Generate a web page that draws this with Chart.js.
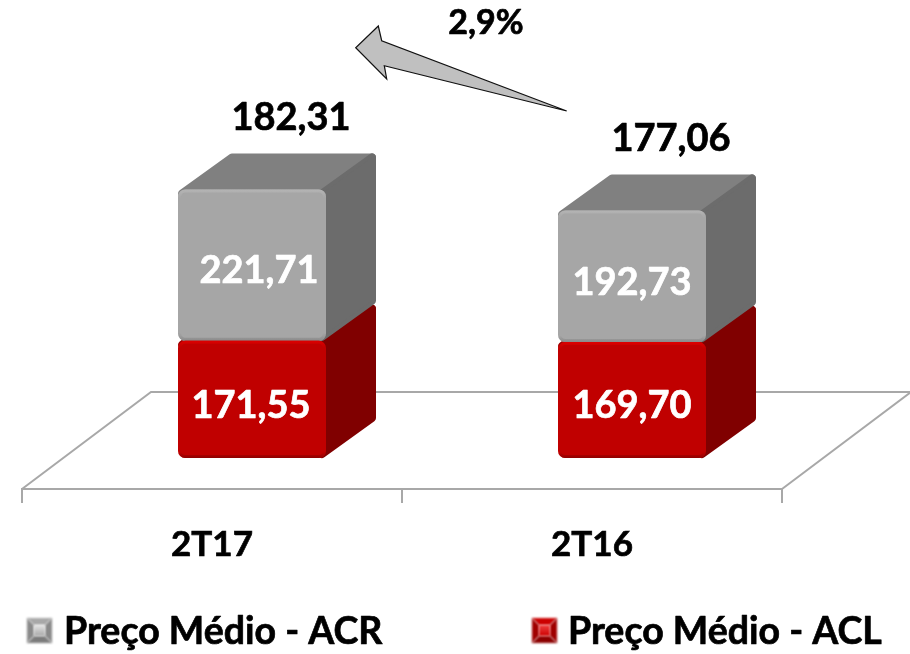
<!DOCTYPE html>
<html>
<head>
<meta charset="utf-8">
<style>html,body{margin:0;padding:0;background:#fff}#w{position:relative;width:910px;height:654px}</style>
<script src="https://cdn.jsdelivr.net/npm/chart.js@4"></script>
</head>
<body>
<div id="w"><canvas id="c" width="910" height="654"></canvas></div>
<script>
const categories = ['2T17', '2T16'];
const precoACL = [171.55, 169.70];
const precoACR = [221.71, 192.73];
const totals = [182.31, 177.06];
const variation = '2,9%';
const labelACR = 'Preço Médio - ACR';
const labelACL = 'Preço Médio - ACL';

const FONT = '"Lato"';
const FS = 38;
const fmt = v => v.toFixed(2).replace('.', ',');
const depth = {x: 50, y: -36};       // oblique depth of each block
const shift = 40;                    // blocks stand in the middle of the floor's depth

function facePoly(ctx, pts, fill) {
  ctx.beginPath();
  pts.forEach((p, i) => i ? ctx.lineTo(p[0], p[1]) : ctx.moveTo(p[0], p[1]));
  ctx.closePath();
  ctx.fillStyle = fill;
  ctx.strokeStyle = fill;
  ctx.lineJoin = 'round';
  ctx.lineWidth = 8;
  ctx.stroke();
  ctx.fill();
}

function heavyText(ctx, text, x, y) {
  ctx.lineJoin = 'round';
  ctx.lineWidth = 0.7;
  ctx.strokeStyle = ctx.fillStyle;
  ctx.strokeText(text, x, y);
  ctx.fillText(text, x, y);
}

const palette = [
  {top: '#9c0000', side: '#800000', hi: '#dc0000', lo: '#8e0000'},
  {top: '#808080', side: '#6c6c6c', hi: '#b4b4b4', lo: '#8a8a8a'}
];

const blocks = {
  id: 'blocks',
  beforeDatasetsDraw(chart) {
    const {ctx, chartArea: a} = chart;
    // floor
    const backY = 392;
    const dx = 129;
    ctx.save();
    ctx.strokeStyle = '#a8a8a8';
    ctx.lineWidth = 2;
    ctx.beginPath();
    ctx.moveTo(a.left, a.bottom);
    ctx.lineTo(a.left + dx, backY);
    ctx.lineTo(a.right + dx, backY);
    ctx.lineTo(a.right, a.bottom);
    ctx.stroke();
    ctx.restore();
    ctx.save();
    ctx.translate(shift, 0);
    // receding faces, lower block first
    [0, 1].forEach(di => {
      const c = palette[di];
      chart.getDatasetMeta(di).data.forEach(b => {
        b.enableBorderRadius = true;
        const r = b.x + b.width / 2 - 4, l = b.x - b.width / 2 + 4;
        const t = b.y + 4, bt = b.base - 4;
        ctx.save();
        ctx.filter = 'blur(0.6px)';
        facePoly(ctx, [[l, t], [l + depth.x, t + depth.y], [r + depth.x, t + depth.y], [r, t]], c.top);
        facePoly(ctx, [[r, t], [r + depth.x, t + depth.y], [r + depth.x, bt + depth.y], [r, bt]], c.side);
        ctx.restore();
      });
    });
  },
  afterDatasetDraw(chart, args) {
    const {ctx} = chart;
    const c = palette[args.index];
    chart.getDatasetMeta(args.index).data.forEach(b => {
      const l = b.x - b.width / 2, w = b.width, t = b.y, h = b.base - b.y;
      ctx.save();
      ctx.filter = 'blur(0.7px)';
      const g = ctx.createLinearGradient(0, t, 0, t + h);
      g.addColorStop(0, c.hi);
      g.addColorStop(0.06, c.hi + '00');
      g.addColorStop(0.95, c.lo + '00');
      g.addColorStop(1, c.lo);
      ctx.strokeStyle = g;
      ctx.lineWidth = 3;
      ctx.beginPath();
      ctx.roundRect(l + 1.5, t + 1.5, w - 3, h - 3, 6);
      ctx.stroke();
      ctx.restore();
    });
  },
  afterDatasetsDraw(chart) {
    const {ctx} = chart;
    ctx.restore();
    // value labels
    ctx.save();
    ctx.font = `bold ${FS}px ${FONT}`;
    ctx.textAlign = 'center';
    ctx.textBaseline = 'middle';
    [precoACL, precoACR].forEach((vals, di) => {
      const meta = chart.getDatasetMeta(di);
      vals.forEach((v, i) => {
        const b = meta.data[i];
        const off = (di === 1 && i === 0) ? 7 : (di === 0 && i === 0 ? -1 : 0);
        ctx.fillStyle = '#fff';
        heavyText(ctx, fmt(v), b.x + shift + off, (b.y + b.base) / 2 + 6);
      });
    });
    const topMeta = chart.getDatasetMeta(1);
    ctx.fillStyle = '#000';
    totals.forEach((v, i) => {
      const b = topMeta.data[i];
      heavyText(ctx, fmt(v), b.x + shift + 39, b.y - 72);
    });
    ctx.font = `bold 34px ${FONT}`;
    heavyText(ctx, variation, 486, 23);
    // arrow
    const arrow = [[566.7, 111], [381.7, 40.7], [378.3, 26], [355.7, 47.7], [386.7, 79], [384.3, 65.7]];
    ctx.beginPath();
    arrow.forEach((p, i) => i ? ctx.lineTo(p[0], p[1]) : ctx.moveTo(p[0], p[1]));
    ctx.closePath();
    ctx.fillStyle = '#c0c0c0';
    ctx.strokeStyle = '#111';
    ctx.lineWidth = 1.2;
    ctx.lineJoin = 'miter';
    ctx.fill();
    ctx.stroke();
    // legend
    ctx.font = `bold 37.5px ${FONT}`;
    const items = [
      {ds: 1, box: 27, text: 64, cols: ['#e4e4e4', '#8a8a8a', '#a8a8a8', '#7c7c7c']},
      {ds: 0, box: 532, text: 568, cols: ['#f04040', '#a00000', '#cc0000', '#8c0000']}
    ];
    items.forEach(it => {
      const X = it.box, Y = 618, S = 25, I = 7;
      ctx.save();
      ctx.filter = 'blur(0.8px)';
      const q = (pts, col) => {
        ctx.beginPath();
        pts.forEach((p, i) => i ? ctx.lineTo(p[0], p[1]) : ctx.moveTo(p[0], p[1]));
        ctx.closePath();
        ctx.fillStyle = col;
        ctx.fill();
      };
      const [tc, lc, cc, bc] = it.cols;
      q([[X, Y], [X + S, Y], [X + S - I, Y + I], [X + I, Y + I]], cc);
      q([[X, Y], [X + I, Y + I], [X + I, Y + S - I], [X, Y + S]], lc);
      q([[X + S, Y], [X + S - I, Y + I], [X + S - I, Y + S - I], [X + S, Y + S]], lc);
      q([[X, Y + S], [X + I, Y + S - I], [X + S - I, Y + S - I], [X + S, Y + S]], bc);
      const g = ctx.createLinearGradient(0, Y + I, 0, Y + S - I);
      g.addColorStop(0, tc);
      g.addColorStop(1, cc);
      ctx.fillStyle = g;
      ctx.fillRect(X + I, Y + I, S - 2 * I, S - 2 * I);
      ctx.restore();
      ctx.fillStyle = '#000';
      ctx.textAlign = 'left';
      heavyText(ctx, chart.data.datasets[it.ds].label, it.text, 632);
    });
    ctx.restore();
  }
};

new Chart(document.getElementById('c'), {
  type: 'bar',
  data: {
    labels: categories,
    datasets: [
      {label: labelACL, data: precoACL, backgroundColor: '#c00000', stack: 's'},
      {label: labelACR, data: precoACR, backgroundColor: '#a6a6a6', stack: 's'}
    ]
  },
  options: {
    responsive: false,
    animation: false,
    devicePixelRatio: 1,
    layout: {padding: {left: 22, right: 128, top: 0, bottom: 67.4}},
    elements: {bar: {borderRadius: 7, borderSkipped: false, borderWidth: 0}},
    datasets: {bar: {categoryPercentage: 1, barPercentage: 148 / 380, clip: false}},
    plugins: {legend: {display: false}, tooltip: {enabled: false}, title: {display: false}},
    scales: {
      x: {
        stacked: true,
        offset: true,
        grid: {display: true, drawOnChartArea: false, drawTicks: true, tickLength: 14, color: '#a8a8a8', lineWidth: 2},
        border: {display: true, color: '#a8a8a8', width: 2},
        ticks: {color: '#000', padding: 20.8, maxRotation: 0, textStrokeColor: '#000', textStrokeWidth: 0.7, font: {family: FONT, size: 35, weight: 'bold'}}
      },
      y: {display: false, stacked: true, min: -45.4, max: 670.6}
    }
  },
  plugins: [blocks]
});
</script>
</body>
</html>
